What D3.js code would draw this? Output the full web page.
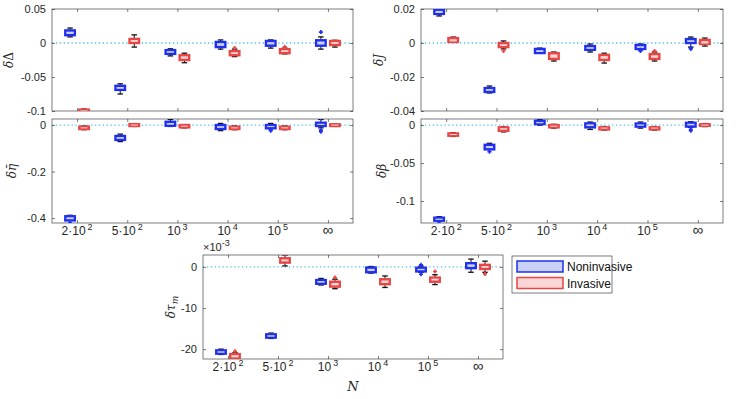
<!DOCTYPE html>
<html>
<head>
<meta charset="utf-8">
<script src="https://cdn.jsdelivr.net/npm/d3@7"></script>
<style>
  body { margin: 0; background: #fff; }
  svg { display: block; }
  .tick text { font-family: "Liberation Sans", Arial, sans-serif; font-size: 11px; fill: #262626; }
</style>
</head>
<body>
<script>
// categories and tick labels
var tickBase = ["2\u00b710", "5\u00b710", "10", "10", "10", "\u221e"];
var tickExp = ["2", "2", "3", "4", "5", ""];

// each box: [whisker low, q1, median, q3, whisker high]
var dDeltaNon = [[0.009, 0.0115, 0.015, 0.0185, 0.022], [-0.075, -0.069, -0.066, -0.063, -0.060],
                 [-0.019, -0.016, -0.013, -0.0105, -0.0085], [-0.009, -0.006, -0.002, 0.0015, 0.0045],
                 [-0.0075, -0.004, 0, 0.003, 0.0045], [-0.009, -0.004, 0, 0.004, 0.009]];
var dDeltaInv = [[-0.105, -0.102, -0.100, -0.098, -0.097], [-0.006, 0.0, 0.003, 0.006, 0.012],
                 [-0.029, -0.025, -0.021, -0.018, -0.015], [-0.020, -0.018, -0.015, -0.012, -0.009],
                 [-0.016, -0.015, -0.012, -0.009, -0.0075], [-0.006, -0.003, 0, 0.003, 0.004]];
var dDeltaNonOut = [[], [], [], [], [], [0.016]];
var dDeltaInvOut = [[], [], [], [-0.0075], [-0.0055], []];

var dJNon = [[0.0159, 0.0171, 0.018, 0.0196, 0.0205], [-0.0294, -0.0288, -0.0275, -0.0265, -0.0253],
             [-0.006, -0.0059, -0.005, -0.0035, -0.003], [-0.0053, -0.004, -0.003, -0.0018, -0.0006],
             [-0.004, -0.0035, -0.0025, -0.0012, -0.0006], [-0.0024, 0, 0.001, 0.0023, 0.0035]];
var dJInv = [[0.0006, 0.0006, 0.0012, 0.0029, 0.0035], [-0.0035, -0.0024, -0.0015, 0, 0.0012],
             [-0.0106, -0.0094, -0.008, -0.006, -0.0053], [-0.0118, -0.010, -0.0085, -0.007, -0.006],
             [-0.0106, -0.0094, -0.008, -0.0065, -0.0053], [-0.0018, -0.0006, 0, 0.0018, 0.0029]];
var dJNonOut = [[], [], [], [], [-0.0047, -0.004], [-0.003, -0.0035]];
var dJInvOut = [[], [-0.0047], [], [], [-0.0047], []];

var dEtaNon = [[-0.405, -0.41, -0.40, -0.392, -0.388], [-0.071, -0.064, -0.055, -0.047, -0.039],
               [-0.006, -0.003, 0.005, 0.014, 0.024], [-0.024, -0.017, -0.008, 0, 0.007],
               [-0.014, -0.014, -0.006, 0, 0.007], [-0.012, -0.004, 0.003, 0.01, 0.024]];
var dEtaInv = [[-0.02, -0.017, -0.012, -0.007, -0.004], [-0.006, -0.004, 0, 0.004, 0.006],
               [-0.012, -0.01, -0.005, 0, 0.002], [-0.02, -0.017, -0.012, -0.007, -0.004],
               [-0.02, -0.017, -0.012, -0.007, -0.004], [-0.006, -0.004, 0, 0.003, 0.005]];
var dEtaNonOut = [[-0.42], [], [], [], [-0.02, -0.024], [0.03, -0.022, -0.029]];
var dEtaInvOut = [[], [], [], [], [], []];

var dBetaNon = [[-0.126, -0.126, -0.124, -0.122, -0.1206], [-0.032, -0.032, -0.029, -0.026, -0.024],
                [0, 0.0013, 0.003, 0.0057, 0.0075], [-0.0057, -0.003, 0, 0.0022, 0.004],
                [-0.004, -0.002, 0, 0.002, 0.004], [-0.003, -0.002, 0.001, 0.003, 0.0044]];
var dBetaInv = [[-0.015, -0.014, -0.0125, -0.011, -0.010], [-0.009, -0.0075, -0.005, -0.003, -0.002],
                [-0.004, -0.003, -0.0015, 0, 0.001], [-0.0065, -0.0057, -0.004, -0.003, -0.002],
                [-0.0065, -0.0057, -0.004, -0.003, -0.002], [-0.002, -0.001, 0, 0.001, 0.002]];
var dBetaNonOut = [[-0.129], [-0.035], [], [], [], [-0.0055, -0.0075]];
var dBetaInvOut = [[], [], [], [], [], []];

// values in units of 1e-3
var dTauNon = [[-21.3, -21.1, -20.7, -20.3, -20.0], [-17.4, -17.2, -16.8, -16.4, -16.1],
               [-4.4, -4.1, -3.6, -3.2, -2.8], [-1.5, -1.3, -0.7, -0.16, 0.1],
               [-1.3, -1.1, -0.6, -0.2, 0.2], [-1.3, -0.3, 0.4, 0.9, 1.9]];
var dTauInv = [[-22.3, -22.3, -21.7, -21.2, -20.9], [0.24, 1.05, 1.6, 2.1, 2.9],
               [-5.3, -4.8, -4.1, -3.6, -3.0], [-5.0, -4.2, -3.6, -3.0, -2.2],
               [-4.3, -3.6, -3.0, -2.6, -1.9], [-1.3, -0.5, 0, 0.5, 1.4]];
var dTauNonOut = [[], [], [], [], [0.5, -1.8], []];
var dTauInvOut = [[-20.5], [3.1], [-2.6], [], [-1.1], [-1.7]];

var seriesNames = ["Noninvasive", "Invasive"];
var strokeCol = ["#1f2ff0", "#e84545"];
var fillCol = ["#c9d1f8", "#f8d6d6"];

var W = 753, H = 399;
var svg = d3.select("body").append("svg").attr("width", W).attr("height", H)
  .style("font-family", "Liberation Sans, Arial, sans-serif");

var panels = [
  {l: 52, r: 353, t: 9, b: 111, dom: [-0.1, 0.05], ticks: [-0.1, -0.05, 0, 0.05],
   non: dDeltaNon, inv: dDeltaInv, nonOut: dDeltaNonOut, invOut: dDeltaInvOut, xlabels: false},
  {l: 421, r: 723, t: 9, b: 111, dom: [-0.04, 0.02], ticks: [-0.04, -0.02, 0, 0.02],
   non: dJNon, inv: dJInv, nonOut: dJNonOut, invOut: dJInvOut, xlabels: false},
  {l: 52, r: 353, t: 119, b: 223, dom: [-0.421, 0.026], ticks: [-0.4, -0.2, 0],
   non: dEtaNon, inv: dEtaInv, nonOut: dEtaNonOut, invOut: dEtaInvOut, xlabels: true},
  {l: 421, r: 723, t: 119, b: 223, dom: [-0.129, 0.008], ticks: [-0.1, -0.05, 0],
   non: dBetaNon, inv: dBetaInv, nonOut: dBetaNonOut, invOut: dBetaInvOut, xlabels: true},
  {l: 203, r: 503, t: 255, b: 359, dom: [-22.4, 2.9], ticks: [-20, -10, 0],
   non: dTauNon, inv: dTauInv, nonOut: dTauNonOut, invOut: dTauInvOut, xlabels: true}
];

panels.forEach(function(p, pi) {
  var x = d3.scaleLinear().domain([0.5, 6.5]).range([p.l, p.r]);
  var y = d3.scaleLinear().domain(p.dom).range([p.b, p.t]);
  var g = svg.append("g");

  g.append("clipPath").attr("id", "clip" + pi).append("rect")
    .attr("x", p.l).attr("y", p.t).attr("width", p.r - p.l).attr("height", p.b - p.t);

  // zero line
  g.append("line").attr("x1", p.l).attr("x2", p.r).attr("y1", y(0)).attr("y2", y(0))
    .attr("stroke", "#4dbeee").attr("stroke-width", 1.3).attr("stroke-dasharray", "1.3,2.6");

  var fmt = function(d) { return d === 0 ? "0" : String(d); };
  var ax = function(a) {
    a.select(".domain").remove();
    a.selectAll(".tick line").attr("stroke", "#262626").attr("stroke-width", 0.6);
  };
  g.append("g").attr("transform", "translate(" + p.l + ",0)")
    .call(d3.axisLeft(y).tickValues(p.ticks).tickSize(-3).tickPadding(6).tickFormat(fmt)).call(ax);
  g.append("g").attr("transform", "translate(" + p.r + ",0)")
    .call(d3.axisRight(y).tickValues(p.ticks).tickSize(-3).tickFormat("")).call(ax);
  g.append("g").attr("transform", "translate(0," + p.b + ")")
    .call(d3.axisBottom(x).tickValues([1, 2, 3, 4, 5, 6]).tickSize(-3).tickFormat("")).call(ax);
  g.append("g").attr("transform", "translate(0," + p.t + ")")
    .call(d3.axisTop(x).tickValues([1, 2, 3, 4, 5, 6]).tickSize(-3).tickFormat("")).call(ax);

  g.append("rect").attr("x", p.l).attr("y", p.t).attr("width", p.r - p.l).attr("height", p.b - p.t)
    .attr("fill", "none").attr("stroke", "#262626").attr("stroke-width", 0.6);

  var marks = g.append("g").attr("clip-path", "url(#clip" + pi + ")");
  [p.non, p.inv].forEach(function(ser, si) {
    var off = si === 0 ? -0.14 : 0.14;
    var outs = si === 0 ? p.nonOut : p.invOut;
    var grp = marks.append("g");
    var items = grp.selectAll("g.box").data(ser).enter().append("g").attr("class", "box");
    // whiskers
    items.append("line")
      .attr("x1", function(d, i) { return x(i + 1 + off); })
      .attr("x2", function(d, i) { return x(i + 1 + off); })
      .attr("y1", function(d) { return y(d[0]); })
      .attr("y2", function(d) { return y(d[4]); })
      .attr("stroke", "#111").attr("stroke-width", 1);
    [0, 4].forEach(function(k) {
      items.append("line")
        .attr("x1", function(d, i) { return x(i + 1 + off - 0.055); })
        .attr("x2", function(d, i) { return x(i + 1 + off + 0.055); })
        .attr("y1", function(d) { return y(d[k]); })
        .attr("y2", function(d) { return y(d[k]); })
        .attr("stroke", "#111").attr("stroke-width", 1.3);
    });
    // box
    items.append("rect")
      .attr("x", function(d, i) { return x(i + 1 + off - 0.095); })
      .attr("width", x(0.19) - x(0))
      .attr("y", function(d) { return y(d[3]); })
      .attr("height", function(d) { return Math.max(y(d[1]) - y(d[3]), 1.5); })
      .attr("fill", fillCol[si]).attr("stroke", strokeCol[si]).attr("stroke-width", 2.4);
    // median
    items.append("line")
      .attr("x1", function(d, i) { return x(i + 1 + off - 0.07); })
      .attr("x2", function(d, i) { return x(i + 1 + off + 0.07); })
      .attr("y1", function(d) { return y(d[2]); })
      .attr("y2", function(d) { return y(d[2]); })
      .attr("stroke", fillCol[si]).attr("stroke-width", 1);
    // outliers
    outs.forEach(function(list, i) {
      list.forEach(function(v) {
        var cx = x(i + 1 + off), cy = y(v);
        grp.append("path")
          .attr("d", "M" + (cx - 2) + "," + cy + "H" + (cx + 2) + "M" + cx + "," + (cy - 2) + "V" + (cy + 2))
          .attr("stroke", strokeCol[si]).attr("stroke-width", 1.6);
      });
    });
  });

  if (p.xlabels) {
    var lab = g.append("g").selectAll("text").data(tickBase).enter().append("text")
      .attr("x", function(d, i) { return x(i + 1); })
      .attr("y", p.b + 12)
      .attr("text-anchor", "middle")
      .attr("font-size", function(d, i) { return i === 5 ? 15 : 12; })
      .attr("fill", "#262626");
    lab.append("tspan").text(function(d) { return d; });
    lab.append("tspan").attr("dx", 2).attr("dy", -5).attr("font-size", 9)
      .text(function(d, i) { return tickExp[i]; });
  }
});

// axis labels
function ylab(xp, yp) {
  return svg.append("text").attr("transform", "translate(" + xp + "," + yp + ") rotate(-90)")
    .attr("text-anchor", "middle").attr("font-family", "DejaVu Serif, serif")
    .attr("font-size", 12).attr("fill", "#262626");
}
var t1 = ylab(13, 60);
t1.append("tspan").attr("font-style", "italic").text("\u03b4");
t1.append("tspan").text("\u0394");
ylab(383, 60).attr("font-style", "italic").text("\u03b4J");
ylab(16, 171).attr("font-style", "italic").text("\u03b4\u03b7\u0304");
ylab(386, 171).attr("font-style", "italic").text("\u03b4\u03b2");
var t5 = ylab(175, 307).attr("font-style", "italic");
t5.append("tspan").text("\u03b4\u03c4");
t5.append("tspan").attr("font-size", 9).attr("dy", 3).text("m");

svg.append("text").attr("x", 353).attr("y", 391).attr("text-anchor", "middle")
  .attr("font-family", "DejaVu Serif, serif").attr("font-style", "italic")
  .attr("font-size", 13).attr("fill", "#262626").text("N");

// exponent label
var ex = svg.append("text").attr("x", 203).attr("y", 251).attr("font-size", 11).attr("fill", "#262626");
ex.append("tspan").text("\u00d710");
ex.append("tspan").attr("dy", -5).attr("font-size", 9).text("-3");

// legend
var lg = svg.append("g").attr("transform", "translate(512,256)");
lg.append("rect").attr("width", 100).attr("height", 37).attr("fill", "#fff")
  .attr("stroke", "#262626").attr("stroke-width", 0.6);
seriesNames.forEach(function(n, i) {
  lg.append("rect").attr("x", 5).attr("y", 5 + i * 16.5).attr("width", 46).attr("height", 11)
    .attr("fill", fillCol[i]).attr("stroke", strokeCol[i]).attr("stroke-width", 1.5);
  lg.append("text").attr("x", 55).attr("y", 15 + i * 16.5).attr("font-size", 12)
    .attr("fill", "#111").text(n);
});
</script>
</body>
</html>
